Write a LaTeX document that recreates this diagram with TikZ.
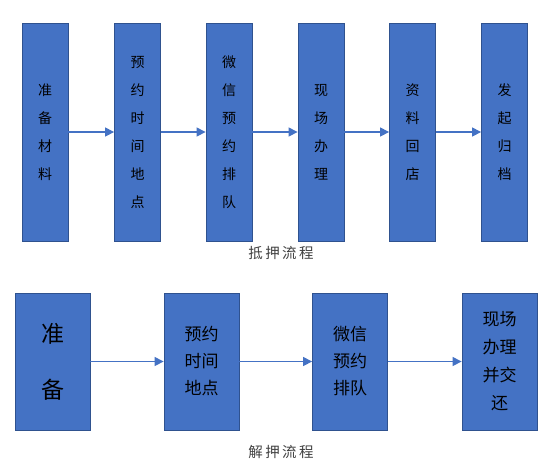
\documentclass[tikz,border=0pt]{standalone}
\usepackage{fontspec}
\setmainfont{Noto Sans CJK SC}
\usetikzlibrary{arrows.meta}
\definecolor{boxblue}{HTML}{4472C4}
\definecolor{boxedge}{HTML}{2F528F}
\definecolor{captext}{HTML}{404040}

\tikzset{
  flowbox/.style={draw=boxedge, line width=0.8pt, fill=boxblue, inner sep=0pt,
                  align=center, text=black},
  flowarrow/.style={draw=boxblue, line width=1.2pt,
                    -{Triangle[length=9pt,width=9pt]}},
  caption/.style={text=captext, font=\fontsize{14.5}{16}\selectfont}
}

\begin{document}
\begin{tikzpicture}[x=1pt, y=-1pt]
    \useasboundingbox (0,0) rectangle (551,467);

    % mortgage flow (top row)
    \begin{scope}[every node/.append style={flowbox, minimum width=46pt, minimum height=218pt,
                  font=\fontsize{14}{28}\selectfont}]
      \node (prep)   at (45,132)    {准\\备\\材\\料};
      \node (appt)   at (137.5,132) {预\\约\\时\\间\\地\\点};
      \node (queue)  at (229,132)   {微\\信\\预\\约\\排\\队};
      \node (onsite) at (321,132)   {现\\场\\办\\理};
      \node (return) at (412.5,132) {资\\料\\回\\店};
      \node (file)   at (504.5,132) {发\\起\\归\\档};
    \end{scope}
    \draw[flowarrow] (prep) -- (appt);
    \draw[flowarrow] (appt) -- (queue);
    \draw[flowarrow] (queue) -- (onsite);
    \draw[flowarrow] (onsite) -- (return);
    \draw[flowarrow] (return) -- (file);
    \node[caption] (mortcap) at (281,253) {抵\,押\,流\,程};

    % release flow (bottom row)
    \begin{scope}[every node/.append style={flowbox, minimum width=75pt, minimum height=137pt}]
      \node[font=\fontsize{23}{56}\selectfont] (rprep) at (52.5,361.5) {准\\备};
      \node[font=\fontsize{17}{27}\selectfont] (rappt) at (201.5,361.5) {预约\\时间\\地点};
      \node[font=\fontsize{17}{27}\selectfont] (rqueue) at (350,361.5) {微信\\预约\\排队};
      \node[font=\fontsize{17}{28}\selectfont] (rdone) at (499.5,361.5) {现场\\办理\\并交\\还};
    \end{scope}
    \draw[flowarrow] (rprep) -- (rappt);
    \draw[flowarrow] (rappt) -- (rqueue);
    \draw[flowarrow] (rqueue) -- (rdone);
    \node[caption] (relcap) at (281,452) {解\,押\,流\,程};
\end{tikzpicture}
\end{document}
